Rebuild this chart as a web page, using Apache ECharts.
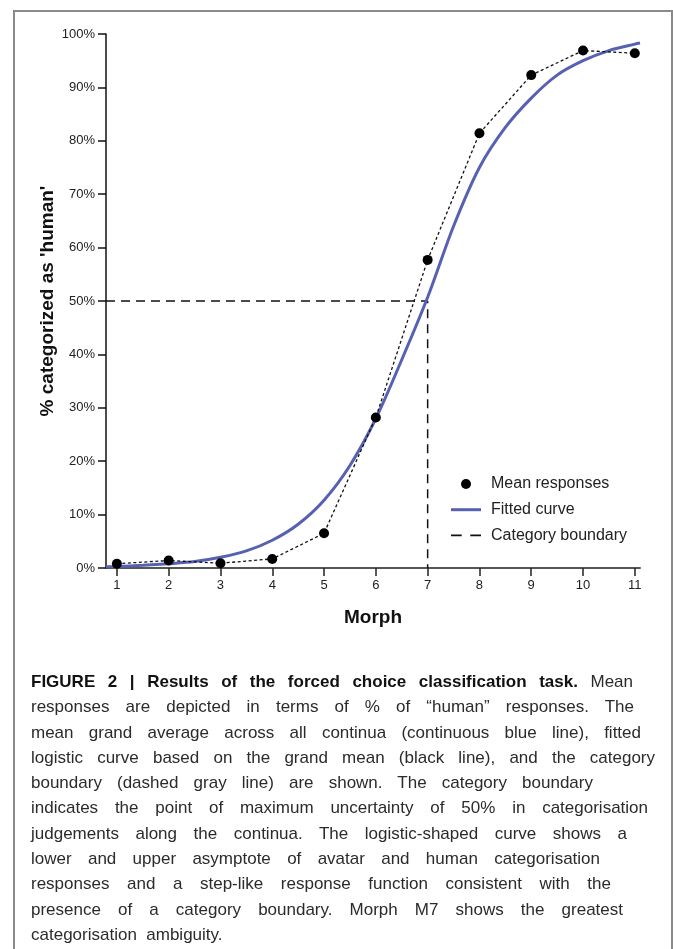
<!DOCTYPE html>
<html>
<head>
<meta charset="utf-8">
<script src="https://cdn.jsdelivr.net/npm/echarts@6/dist/echarts.min.js"></script>
<style>
  html, body { margin: 0; padding: 0; background: #fff; }
  #wrap { position: relative; width: 673px; height: 949px; overflow: hidden; }
  #frame { position: absolute; left: 13px; top: 10px; width: 656px; height: 980px; border: 2px solid #8a8a8a; border-bottom: none; }
  #chart { position: absolute; left: 0; top: 0; width: 673px; height: 949px; }
  #cap { position: absolute; left: 31px; top: 669px; font-family: "Liberation Sans Narrow", "Arial Narrow", "Liberation Sans", Arial, sans-serif; font-size: 17px; line-height: 25.3px; color: #2b2b2b; }
  #cap .l { white-space: nowrap; text-align: justify; text-align-last: justify; }
  #cap .last { white-space: nowrap; text-align: left; text-align-last: left; }
  #cap b { color: #111; }
</style>
</head>
<body>
<div id="wrap">
  <div id="frame"></div>
  <div id="chart"></div>
  <div id="cap">
    <div class="l" style="width:602px"><b>FIGURE 2 | Results of the forced choice classification task.</b> Mean</div>
    <div class="l" style="width:603px">responses are depicted in terms of % of “human” responses. The</div>
    <div class="l" style="width:610px">mean grand average across all continua (continuous blue line), fitted</div>
    <div class="l" style="width:624px">logistic curve based on the grand mean (black line), and the category</div>
    <div class="l" style="width:562px">boundary (dashed gray line) are shown. The category boundary</div>
    <div class="l" style="width:617px">indicates the point of maximum uncertainty of 50% in categorisation</div>
    <div class="l" style="width:596px">judgements along the continua. The logistic-shaped curve shows a</div>
    <div class="l" style="width:569px">lower and upper asymptote of avatar and human categorisation</div>
    <div class="l" style="width:580px">responses and a step-like response function consistent with the</div>
    <div class="l" style="width:592px">presence of a category boundary. Morph M7 shows the greatest</div>
    <div class="last">categorisation&nbsp; ambiguity.</div>
  </div>
</div>
<script>
// ---- data ----
const morphs = [1, 2, 3, 4, 5, 6, 7, 8, 9, 10, 11];
const meanResponses = [0.8, 1.4, 0.9, 1.7, 6.5, 28.2, 57.7, 81.4, 92.3, 96.9, 96.4];

const fitX = [0.79, 1, 1.5, 2, 2.5, 3, 3.5, 4, 4.5, 5, 5.5, 6, 6.5, 7, 7.5, 8, 8.5, 9, 9.5, 10, 10.5, 11, 11.1];
const fitY = [0.25, 0.3, 0.5, 0.8, 1.2, 2.0, 3.2, 5.2, 8.2, 12.7, 19.2, 28.0, 39.0, 50.7, 64.0, 75.0, 82.5, 88.0, 92.3, 95.0, 96.9, 98.1, 98.3];

const boundaryX = [0.79, 7, 7];
const boundaryY = [50, 50, 0];

const xTicks = [1, 2, 3, 4, 5, 6, 7, 8, 9, 10, 11];
const yTicks = [0, 10, 20, 30, 40, 50, 60, 70, 80, 90, 100];

const seriesNames = ['Mean responses', 'Fitted curve', 'Category boundary'];
const xAxisName = 'Morph';
const yAxisName = "% categorized as 'human'";

// ---- build ----
const zip = (a, b) => a.map((v, i) => [v, b[i]]);
const chart = echarts.init(document.getElementById('chart'), null, { renderer: 'canvas' });

const baseFont = '"Liberation Sans", Arial, Helvetica, sans-serif';

chart.setOption({
  animation: false,
  textStyle: { fontFamily: baseFont },
  grid: { left: 106, right: 33, top: 34, bottom: 381 },
  legend: {
    orient: 'vertical',
    left: 451,
    top: 476,
    padding: 0,
    itemWidth: 30,
    itemHeight: 10,
    itemGap: 9.7,
    textStyle: { fontSize: 16, color: '#222', lineHeight: 16, fontFamily: baseFont, padding: [0, 0, 0, 5] },
    data: [
      { name: seriesNames[0], icon: 'circle' },
      { name: seriesNames[1], icon: 'path://M0,0 L30,0 L30,3 L0,3 Z' },
      { name: seriesNames[2], icon: 'path://M0,0 L10,0 L10,1.6 L0,1.6 Z M18,0 L28,0 L28,1.6 L18,1.6 Z' }
    ]
  },
  xAxis: {
    type: 'value',
    min: boundaryX[0],
    max: fitX[fitX.length - 1],
    name: xAxisName,
    nameLocation: 'middle',
    nameGap: 40,
    nameTextStyle: { fontSize: 19, fontWeight: 'bold', color: '#111', fontFamily: baseFont },
    axisLine: { onZero: false, lineStyle: { color: '#555', width: 2 } },
    axisTick: { show: true, length: 8, lineStyle: { color: '#222', width: 1.5 }, customValues: xTicks },
    axisLabel: { margin: 11, fontSize: 13, color: '#222', customValues: xTicks, formatter: v => String(v) },
    splitLine: { show: false }
  },
  yAxis: {
    type: 'value',
    min: yTicks[0],
    max: yTicks[yTicks.length - 1],
    interval: 10,
    name: yAxisName,
    nameLocation: 'middle',
    nameRotate: 90,
    nameGap: 49,
    nameMoveOverlap: false,
    nameTextStyle: { fontSize: 19, fontWeight: 'bold', color: '#111', fontFamily: baseFont },
    axisLine: { show: true, lineStyle: { color: '#111', width: 1.5 } },
    axisTick: { show: true, length: 8, lineStyle: { color: '#111', width: 1.5 } },
    axisLabel: { margin: 11, fontSize: 13, color: '#222', formatter: '{value}%' },
    splitLine: { show: false }
  },
  series: [
    {
      name: seriesNames[2],
      type: 'line',
      data: zip(boundaryX, boundaryY),
      symbol: 'none',
      lineStyle: { color: '#111', width: 1.5, type: [9, 6] },
      itemStyle: { color: '#111' },
      z: 2
    },
    {
      name: seriesNames[1],
      type: 'line',
      data: zip(fitX, fitY),
      symbol: 'none',
      smooth: 0.3,
      lineStyle: { color: '#5661b3', width: 3 },
      itemStyle: { color: '#5661b3' },
      z: 3
    },
    {
      name: seriesNames[0],
      type: 'line',
      data: zip(morphs, meanResponses),
      symbol: 'circle',
      symbolSize: 10,
      showSymbol: true,
      lineStyle: { color: '#111', width: 1.3, type: [3, 2.5] },
      itemStyle: { color: '#000' },
      z: 4
    }
  ]
});
</script>
</body>
</html>
